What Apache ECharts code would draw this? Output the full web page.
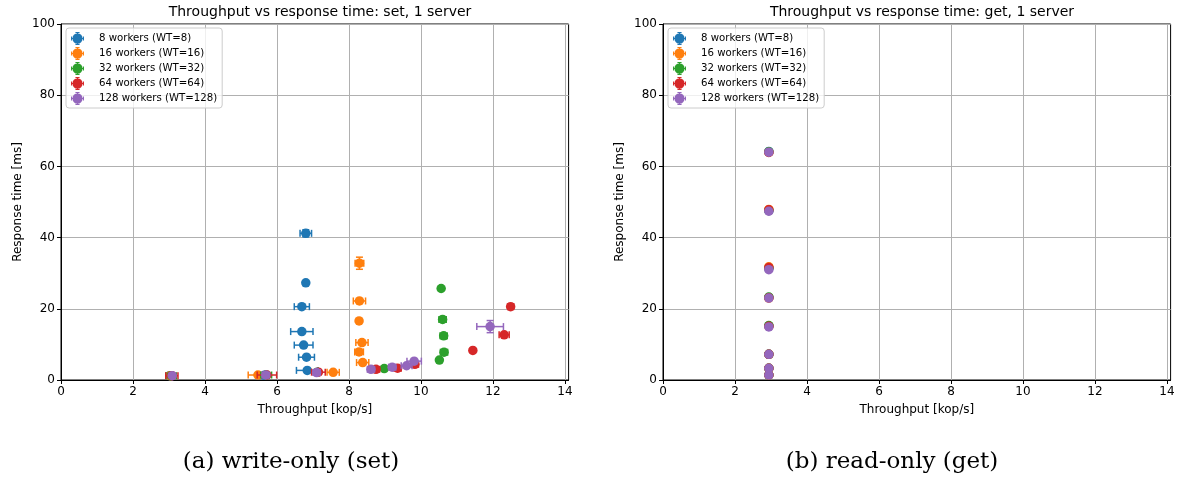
<!DOCTYPE html>
<html>
<head>
<meta charset="utf-8">
<script src="https://cdn.jsdelivr.net/npm/echarts@6/dist/echarts.min.js"></script>
<style>
html,body{margin:0;padding:0;background:#fff;}
#chart{width:1183px;height:481px;}
</style>
</head>
<body>
<div id="chart"></div>
<script>
// ---- data ----
const seriesNames = ['8 workers (WT=8)', '16 workers (WT=16)', '32 workers (WT=32)', '64 workers (WT=64)', '128 workers (WT=128)'];
const colors = ['#1f77b4', '#ff7f0e', '#2ca02c', '#d62728', '#9467bd'];
const panelTitles = ['Throughput vs response time: set, 1 server', 'Throughput vs response time: get, 1 server'];
const captions = ['(a) write-only (set)', '(b) read-only (get)'];
const xTicks = [0, 2, 4, 6, 8, 10, 12, 14];
const yTicks = [0, 20, 40, 60, 80, 100];

// set (write-only): throughput [kop/s], response time [ms], with std errors
const setX = [
  [3.02, 5.65, 6.84, 6.82, 6.74, 6.69, 6.69, 6.80, 6.80],
  [3.03, 5.47, 7.56, 8.38, 8.28, 8.36, 8.28, 8.29, 8.29],
  [3.06, 5.70, 7.12, 8.98, 10.51, 10.64, 10.63, 10.60, 10.56],
  [3.08, 5.72, 7.15, 8.75, 9.35, 9.83, 11.44, 12.31, 12.49],
  [3.09, 5.69, 7.10, 8.61, 9.20, 9.60, 9.81, 11.92]
];
const setY = [
  [1.2, 1.3, 2.7, 6.4, 9.8, 13.6, 20.6, 27.3, 41.2],
  [1.2, 1.4, 2.15, 4.9, 7.9, 10.5, 16.6, 22.2, 32.8],
  [1.2, 1.4, 2.2, 3.2, 5.6, 7.8, 12.4, 17.0, 25.7],
  [1.2, 1.4, 2.2, 3.0, 3.3, 4.4, 8.3, 12.7, 20.6],
  [1.2, 1.4, 2.1, 3.0, 3.6, 4.0, 5.3, 15.0]
];
const setXErr = [
  [0.05, 0.10, 0.30, 0.22, 0.26, 0.31, 0.21, 0.03, 0.16],
  [0.05, 0.27, 0.17, 0.17, 0.12, 0.17, 0.03, 0.17, 0.12],
  [0.15, 0.15, 0.08, 0.05, 0.03, 0.10, 0.10, 0.10, 0.03],
  [0.17, 0.27, 0.19, 0.10, 0.10, 0.10, 0.03, 0.14, 0.08],
  [0.05, 0.10, 0.10, 0.10, 0.10, 0.15, 0.20, 0.37]
];
const setYErr = [
  [0.05, 0.1, 0.1, 0.2, 0.3, 0.4, 0.5, 0.5, 1.0],
  [0.05, 0.1, 0.1, 0.2, 0.3, 0.5, 0.3, 0.5, 1.7],
  [0.05, 0.05, 0.1, 0.1, 0.2, 0.3, 0.4, 0.6, 0.3],
  [0.05, 0.05, 0.1, 0.1, 0.1, 0.2, 0.2, 0.3, 0.4],
  [0.05, 0.05, 0.1, 0.1, 0.1, 0.2, 0.3, 1.7]
];

// get (read-only)
const getX = [
  [2.94, 2.94, 2.94, 2.94, 2.94, 2.94, 2.94, 2.94],
  [2.94, 2.94, 2.94, 2.94, 2.94, 2.94, 2.94, 2.94],
  [2.94, 2.94, 2.94, 2.94, 2.94, 2.94, 2.94, 2.94],
  [2.94, 2.94, 2.94, 2.94, 2.94, 2.94, 2.94, 2.94],
  [2.94, 2.94, 2.94, 2.94, 2.94, 2.94, 2.94, 2.94]
];
const getY = [
  [1.4, 3.3, 7.2, 15.2, 23.2, 31.4, 47.6, 64.2],
  [1.4, 3.3, 7.2, 15.1, 23.0, 31.8, 47.9, 64.0],
  [1.4, 3.3, 7.2, 15.3, 23.3, 31.4, 47.6, 64.1],
  [1.4, 3.3, 7.2, 15.1, 23.1, 31.6, 47.8, 63.9],
  [1.4, 3.3, 7.2, 14.9, 23.0, 31.0, 47.4, 64.0]
];
const getXErr = [
  [0.01, 0.01, 0.01, 0.01, 0.01, 0.01, 0.01, 0.01],
  [0.01, 0.01, 0.01, 0.01, 0.01, 0.01, 0.01, 0.01],
  [0.01, 0.01, 0.01, 0.01, 0.01, 0.01, 0.01, 0.01],
  [0.01, 0.01, 0.01, 0.01, 0.01, 0.01, 0.01, 0.01],
  [0.01, 0.01, 0.01, 0.01, 0.01, 0.01, 0.01, 0.01]
];
const getYErr = [
  [0.05, 0.05, 0.1, 0.1, 0.1, 0.2, 0.3, 0.3],
  [0.05, 0.05, 0.1, 0.1, 0.1, 0.2, 0.3, 0.3],
  [0.05, 0.05, 0.1, 0.1, 0.1, 0.2, 0.3, 0.3],
  [0.05, 0.05, 0.1, 0.1, 0.1, 0.2, 0.3, 0.3],
  [0.05, 0.05, 0.1, 0.1, 0.1, 0.2, 0.3, 0.3]
];

// ---- chart ----
const FONT = 'DejaVu Sans';
const chart = echarts.init(document.getElementById('chart'), null, {renderer: 'canvas'});

const legendIcon = 'path://M17.5 10 A7.5 7.5 0 1 1 2.5 10 A7.5 7.5 0 1 1 17.5 10 Z M0.5 9.3 H19.5 V10.7 H0.5 Z M9.3 0.5 H10.7 V19.5 H9.3 Z M0.5 7 H1.9 V13 H0.5 Z M18.1 7 H19.5 V13 H18.1 Z M7 0.5 H13 V1.9 H7 Z M7 18.1 H13 V19.5 H7 Z';

function renderErr(params, api) {
  const x = api.value(0), y = api.value(1), xe = api.value(2), ye = api.value(3);
  const l = api.coord([x - xe, y]), r = api.coord([x + xe, y]);
  const t = api.coord([x, y + ye]), b = api.coord([x, y - ye]);
  const cap = 3.5;
  const style = {stroke: api.visual('color'), lineWidth: 1.5, fill: null};
  const lines = [
    [l[0], l[1], r[0], r[1]],
    [l[0], l[1] - cap, l[0], l[1] + cap],
    [r[0], r[1] - cap, r[0], r[1] + cap],
    [t[0], t[1], b[0], b[1]],
    [t[0] - cap, t[1], t[0] + cap, t[1]],
    [b[0] - cap, b[1], b[0] + cap, b[1]]
  ];
  return {
    type: 'group',
    children: lines.map(p => ({type: 'line', shape: {x1: p[0], y1: p[1], x2: p[2], y2: p[3]}, style: style}))
  };
}

const gridLefts = [61, 663];
const plotW = 507.6;
const grids = gridLefts.map(l => ({left: l, width: plotW, top: 24, height: 356, show: true, borderColor: '#000', borderWidth: 1, backgroundColor: 'transparent'}));

const xAxes = [0, 1].map(i => ({
  type: 'value', gridIndex: i, min: 0, max: 14.1, interval: 2,
  name: 'Throughput [kop/s]', nameLocation: 'middle', nameGap: 24,
  nameTextStyle: {fontFamily: FONT, fontSize: 12, color: '#000'},
  axisLine: {show: true, onZero: false, lineStyle: {color: '#000', width: 1}},
  axisTick: {show: true, length: 4, lineStyle: {color: '#000'}, customValues: xTicks},
  axisLabel: {fontFamily: FONT, fontSize: 12, color: '#000', margin: 6, customValues: xTicks,
    formatter: v => (xTicks.indexOf(v) >= 0 ? String(v) : '')},
  splitLine: {show: true, lineStyle: {color: '#b0b0b0', width: 1}}
}));
const yAxes = [0, 1].map(i => ({
  type: 'value', gridIndex: i, min: 0, max: 100, interval: 20,
  name: 'Response time [ms]', nameLocation: 'middle', nameGap: 37, nameRotate: 90,
  nameTextStyle: {fontFamily: FONT, fontSize: 12, color: '#000'},
  axisLine: {show: true, onZero: false, lineStyle: {color: '#000', width: 1}},
  axisTick: {show: true, length: 4, lineStyle: {color: '#000'}},
  axisLabel: {fontFamily: FONT, fontSize: 12, color: '#000', margin: 6,
    formatter: v => (yTicks.indexOf(v) >= 0 ? String(v) : '')},
  splitLine: {show: true, lineStyle: {color: '#b0b0b0', width: 1}}
}));

const series = [];
const panels = [[setX, setY, setXErr, setYErr], [getX, getY, getXErr, getYErr]];
panels.forEach((p, pi) => {
  const [X, Y] = p;
  for (let s = 0; s < seriesNames.length; s++) {
    series.push({
      type: 'scatter', name: seriesNames[s], xAxisIndex: pi, yAxisIndex: pi,
      symbol: 'circle', symbolSize: 9.5, z: 3 + 2 * s,
      itemStyle: {color: colors[s], opacity: 1},
      emphasis: {disabled: true},
      data: X[s].map((x, k) => [x, Y[s][k]])
    });
  }
});
panels.forEach((p, pi) => {
  const [X, Y, XE, YE] = p;
  for (let s = 0; s < seriesNames.length; s++) {
    series.push({
      type: 'custom', name: seriesNames[s], xAxisIndex: pi, yAxisIndex: pi,
      z: 2 + 2 * s, renderItem: renderErr, clip: false,
      itemStyle: {color: colors[s]},
      encode: {x: 0, y: 1},
      data: X[s].map((x, k) => [x, Y[s][k], XE[s][k], YE[s][k]])
    });
  }
});

const legendBase = {
  orient: 'vertical', itemWidth: 13, itemHeight: 13, itemGap: 2,
  padding: [4, 5, 3, 5], backgroundColor: 'rgba(255,255,255,0.8)',
  borderColor: '#cccccc', borderWidth: 1, borderRadius: 3,
  textStyle: {fontFamily: FONT, fontSize: 10.2, color: '#000', padding: [0, 0, 0, 10]},
  selectedMode: false,
  data: seriesNames.map(n => ({name: n, icon: legendIcon}))
};

const option = {
  animation: false,
  backgroundColor: '#fff',
  title: panelTitles.map((t, i) => ({
    text: t, left: gridLefts[i] + 254, top: 0, textAlign: 'center',
    textStyle: {fontFamily: FONT, fontSize: 14, fontWeight: 'normal', color: '#000'}
  })),
  legend: [Object.assign({}, legendBase, {left: 66, top: 28}), Object.assign({}, legendBase, {left: 668, top: 28})],
  grid: grids,
  xAxis: xAxes,
  yAxis: yAxes,
  series: series,
  graphic: captions.map((c, i) => ({
    type: 'text', x: [291, 892][i], y: 451,
    style: {text: c, fontFamily: 'DejaVu Serif', fontSize: 23, fill: '#000', align: 'center'}
  }))
};
chart.setOption(option);
</script>
</body>
</html>
